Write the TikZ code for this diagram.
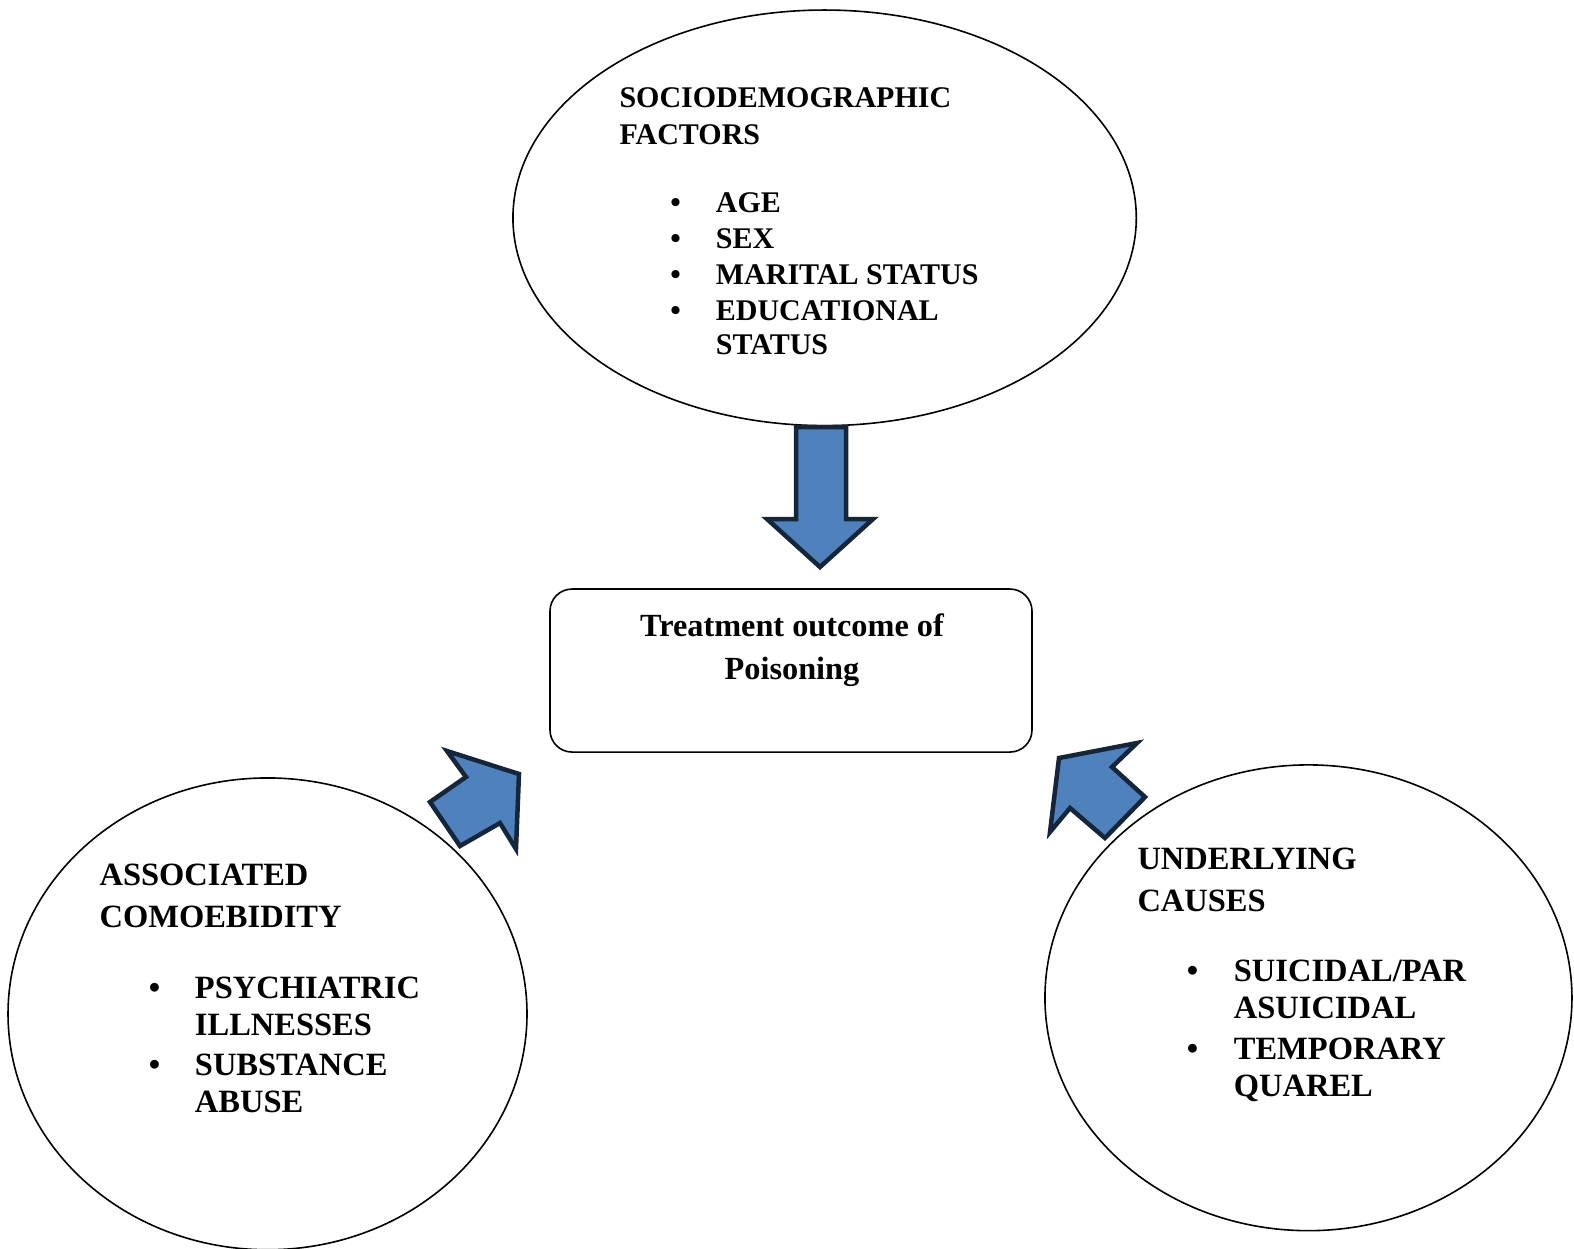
\documentclass[tikz,border=0pt]{standalone}
\usepackage{fontspec}
\setmainfont{Liberation Serif}
\definecolor{arrowfill}{HTML}{4F81BD}
\definecolor{arrowline}{HTML}{15263A}
\begin{document}
\begin{tikzpicture}[x=1pt,y=-1pt,
  bubble/.style={draw=black,line width=1.6pt},
  blockarrow/.style={fill=arrowfill,draw=arrowline,line width=4.5pt,line join=miter},
  etext/.style={anchor=base west,inner sep=0pt,font=\bfseries\fontsize{30}{36}\selectfont},
  ltext/.style={anchor=base west,inner sep=0pt,font=\bfseries\fontsize{32.5}{40}\selectfont},
  btext/.style={anchor=base,inner sep=0pt,font=\bfseries\fontsize{32.3}{43}\selectfont},
  bul/.style={anchor=base,inner sep=0pt,font=\bfseries\fontsize{30}{36}\selectfont},
  lbul/.style={anchor=base,inner sep=0pt,font=\bfseries\fontsize{32.5}{40}\selectfont}]
\useasboundingbox (0,0) rectangle (1574,1248);
\begin{scope}[scale=1.0038]
% ellipses
\draw[bubble] (821.5,217) ellipse [x radius=310.5, y radius=207];
\draw[bubble] (266.5,1010) ellipse [x radius=258.5, y radius=235];
\draw[bubble] (1303.5,994) ellipse [x radius=262.5, y radius=232];
% central box
\node[draw=black,line width=1.6pt,rounded corners=22pt,minimum width=482pt,minimum height=163pt,inner sep=0pt] (box) at (788,668) {};
\node[btext] (t1) at (789,634) {Treatment outcome of};
\node[btext] (t2) at (789,677) {Poisoning};
% top text
\node[etext] (s1) at (617,107) {SOCIODEMOGRAPHIC};
\node[etext] (s2) at (617,144) {FACTORS};
\node[bul] (sb1) at (673,212) {\textbullet};
\node[etext] (s3) at (713,212) {AGE};
\node[bul] (sb2) at (673,248) {\textbullet};
\node[etext] (s4) at (713,248) {SEX};
\node[bul] (sb3) at (673,283) {\textbullet};
\node[etext] (s5) at (713,283) {MARITAL STATUS};
\node[bul] (sb4) at (673,319) {\textbullet};
\node[etext] (s6) at (713,319) {EDUCATIONAL};
\node[etext] (s7) at (713,353) {STATUS};
% left text
\node[ltext] (l1) at (99,882) {ASSOCIATED};
\node[ltext] (l2) at (99,924) {COMOEBIDITY};
\node[lbul] (lb1) at (154,995) {\textbullet};
\node[ltext] (l3) at (194,995) {PSYCHIATRIC};
\node[ltext] (l4) at (194,1032) {ILLNESSES};
\node[lbul] (lb2) at (154,1071) {\textbullet};
\node[ltext] (l5) at (194,1071) {SUBSTANCE};
\node[ltext] (l6) at (194,1108) {ABUSE};
% right text
\node[ltext] (r1) at (1133,866) {UNDERLYING};
\node[ltext] (r2) at (1133,908) {CAUSES};
\node[lbul] (rb1) at (1188,978) {\textbullet};
\node[ltext] (r3) at (1229,978) {SUICIDAL/PAR};
\node[ltext] (r4) at (1229,1015) {ASUICIDAL};
\node[lbul] (rb2) at (1188,1055) {\textbullet};
\node[ltext] (r5) at (1229,1055) {TEMPORARY};
\node[ltext] (r6) at (1229,1092) {QUAREL};
\end{scope}
% block arrows
\draw[blockarrow] (796,427) -- (846,427) -- (846,519) -- (873,519) -- (820,567) -- (767,519) -- (796,519) -- cycle;
\draw[blockarrow] (447,751) -- (519,774) -- (516,849) -- (500,823) -- (460,846) -- (430,802) -- (466,777) -- cycle;
\draw[blockarrow] (1059,758) -- (1137,743) -- (1112,767) -- (1145,797) -- (1105,838) -- (1070,808) -- (1050,832) -- cycle;
\end{tikzpicture}
\end{document}
